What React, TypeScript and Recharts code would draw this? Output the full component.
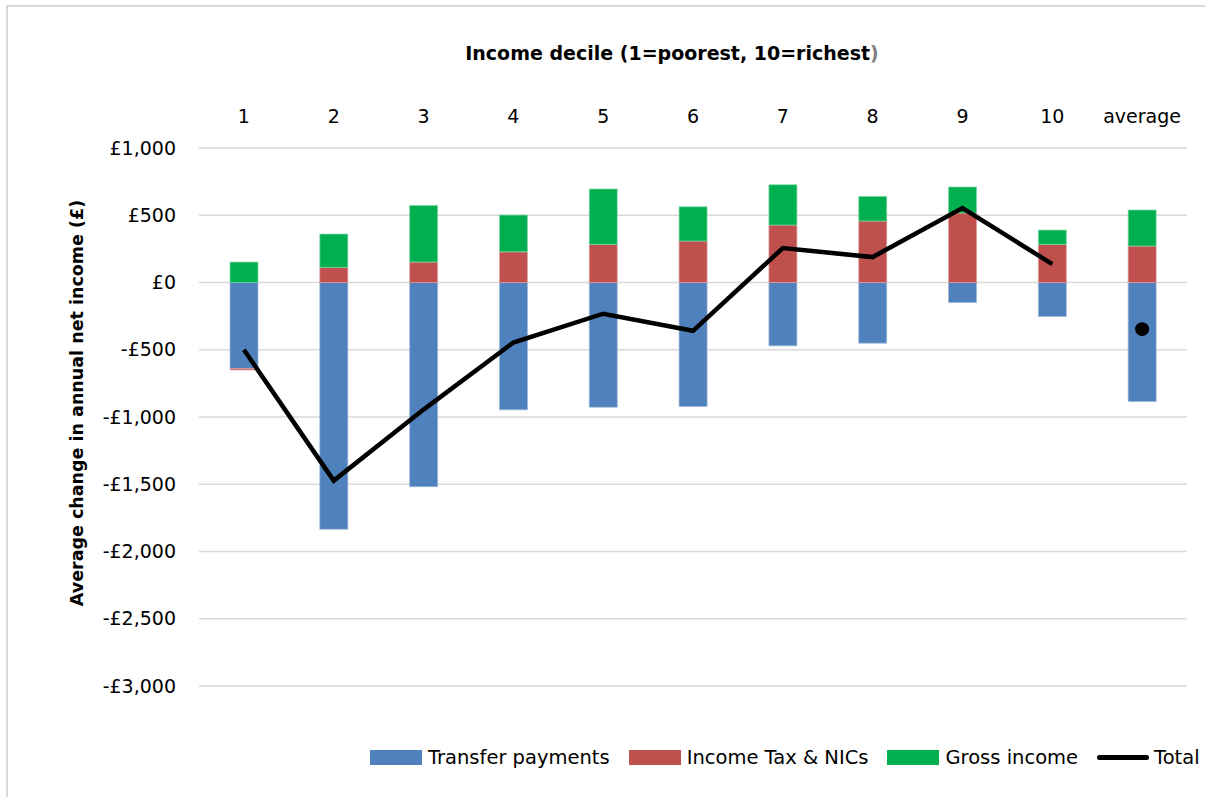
import React from "react";
import {
  ComposedChart,
  Bar,
  Line,
  XAxis,
  YAxis,
  CartesianGrid,
  Legend,
  Label,
} from "recharts";

const categories = ["1", "2", "3", "4", "5", "6", "7", "8", "9", "10", "average"];
const transferPayments = [-640, -1835, -1518, -947, -927, -922, -471, -451, -149, -253, -885];
const incomeTaxNICs = [-10, 112, 152, 228, 283, 308, 427, 457, 516, 283, 271];
const grossIncome = [152, 248, 421, 273, 412, 255, 300, 183, 194, 107, 268];
const totalDeciles = [-500, -1473, -945, -446, -232, -359, 256, 189, 553, 137, null];
const totalAverage = [null, null, null, null, null, null, null, null, null, null, -347];
const yTicks = [-3000, -2500, -2000, -1500, -1000, -500, 0, 500, 1000];

const data = categories.map((c, i) => ({
  cat: c,
  transfer: transferPayments[i],
  tax: incomeTaxNICs[i],
  gross: grossIncome[i],
  total: totalDeciles[i],
  totalAvg: totalAverage[i],
}));

const FONT = "'DejaVu Sans', sans-serif";
const BLUE = "#4f81bd";
const RED = "#c0504d";
const GREEN = "#00b050";

const fmt = (v: number) => {
  const a = Math.abs(v).toLocaleString("en-GB");
  return (v < 0 ? "-£" : "£") + a;
};

const legendItems = [
  { name: "Transfer payments", color: BLUE, type: "rect" },
  { name: "Income Tax & NICs", color: RED, type: "rect" },
  { name: "Gross income", color: GREEN, type: "rect" },
  { name: "Total", color: "#000", type: "line" },
];

const renderLegend = () => (
  <div
    style={{
      display: "flex",
      alignItems: "center",
      fontFamily: FONT,
      fontSize: 19.5,
      color: "#000",
      whiteSpace: "nowrap",
    }}
  >
    {legendItems.map((it, i) => (
      <div
        key={it.name}
        style={{ display: "flex", alignItems: "center", marginRight: i < 3 ? 19 : 0 }}
      >
        {it.type === "rect" ? (
          <div style={{ width: 52, height: 15, background: it.color, marginRight: 6 }} />
        ) : (
          <div
            style={{
              width: 52,
              height: 5,
              background: it.color,
              borderRadius: 3,
              marginRight: 5,
            }}
          />
        )}
        <span>{it.name}</span>
      </div>
    ))}
  </div>
);

export default function App() {
  return (
    <div
      style={{
        position: "absolute",
        left: 0,
        top: 0,
        width: 1205,
        height: 797,
        background: "#fff",
        overflow: "hidden",
      }}
    >
      <div
        style={{
          position: "absolute",
          left: 6,
          top: 5,
          width: 1300,
          height: 900,
          borderLeft: "2px solid #d9d9d9",
          borderTop: "2px solid #d9d9d9",
        }}
      />
      <ComposedChart
        width={1205}
        height={797}
        data={data}
        stackOffset="sign"
        margin={{ top: 88, right: 18, bottom: 111, left: 79 }}
        barCategoryGap={0}
        style={{ position: "absolute", left: 0, top: 0 }}
      >
        <CartesianGrid vertical={false} stroke="#d9d9d9" strokeWidth={1.5} />
        <XAxis
          dataKey="cat"
          orientation="top"
          height={60}
          axisLine={false}
          tickLine={false}
          tickSize={0}
          tickMargin={25}
          interval={0}
          tick={{ fontFamily: FONT, fontSize: 19, fill: "#000" }}
        >
          <Label
            content={() => (
              <text
                x={672}
                y={60}
                textAnchor="middle"
                fontFamily={FONT}
                fontSize={19}
                fontWeight="bold"
                fill="#000"
              >
                Income decile (1=poorest, 10=richest
                <tspan fill="#7f7f7f">)</tspan>
              </text>
            )}
          />
        </XAxis>
        <YAxis
          width={120}
          domain={[-3000, 1000]}
          ticks={yTicks}
          interval={0}
          axisLine={false}
          tickLine={false}
          tickSize={0}
          tickMargin={23}
          tickFormatter={fmt}
          tick={{ fontFamily: FONT, fontSize: 19, fill: "#000" }}
        >
          <Label
            content={() => (
              <text
                x={0}
                y={0}
                transform="translate(83, 403) rotate(-90)"
                textAnchor="middle"
                fontFamily={FONT}
                fontSize={17.5}
                fontWeight="bold"
                fill="#000"
              >
                Average change in annual net income (£)
              </text>
            )}
          />
        </YAxis>
        <Legend
          verticalAlign="middle"
          align="center"
          content={renderLegend}
          wrapperStyle={{ position: "absolute", left: 370, top: 746, width: 835, height: 24 }}
        />
        <Bar
          dataKey="transfer"
          name="Transfer payments"
          stackId="s"
          fill={BLUE}
          stroke="#9db7d9"
          strokeWidth={0.7}
          barSize={28}
          isAnimationActive={false}
        />
        <Bar
          dataKey="tax"
          name="Income Tax & NICs"
          stackId="s"
          fill={RED}
          stroke="#e0a09e"
          strokeWidth={0.7}
          barSize={28}
          isAnimationActive={false}
        />
        <Bar
          dataKey="gross"
          name="Gross income"
          stackId="s"
          fill={GREEN}
          stroke="#80d8a8"
          strokeWidth={0.7}
          barSize={28}
          isAnimationActive={false}
        />
        <Line
          dataKey="total"
          name="Total"
          stroke="#000"
          strokeWidth={4.5}
          dot={false}
          activeDot={false}
          connectNulls={false}
          isAnimationActive={false}
        />
        <Line
          dataKey="totalAvg"
          name="Total average"
          stroke="#000"
          strokeWidth={0}
          dot={{ r: 7, fill: "#000", stroke: "#000", strokeWidth: 0 }}
          activeDot={false}
          legendType="none"
          isAnimationActive={false}
        />
      </ComposedChart>
    </div>
  );
}
